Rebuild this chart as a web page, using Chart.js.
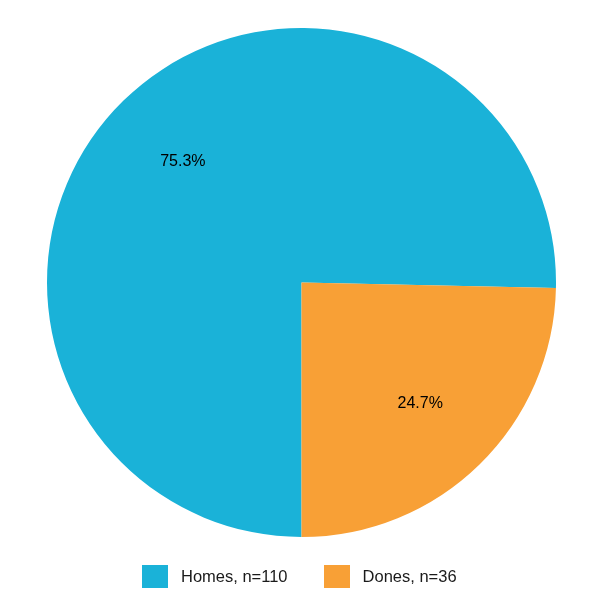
<!DOCTYPE html>
<html>
<head>
<meta charset="utf-8">
<script src="https://cdn.jsdelivr.net/npm/chart.js@4/dist/chart.umd.min.js"></script>
<style>
  html, body { margin: 0; padding: 0; background: #fff; }
  .wrap { position: relative; width: 616px; height: 605px; }
  .legend {
    position: absolute; top: 565px; left: 142px;
    display: flex; align-items: center;
    font-family: "Liberation Sans", Arial, sans-serif; font-size: 16.5px; color: #1a1a1a;
  }
  .legend-item { display: flex; align-items: center; margin-right: 36px; }
  .legend-box { width: 26px; height: 23px; margin-right: 13px; }
</style>
</head>
<body>
<div class="wrap">
  <canvas id="pieChart" width="616" height="605"></canvas>
  <div class="legend" id="legend"></div>
</div>
<script>
const labels = ["Homes", "Dones"];
const counts = [110, 36];
const colors = ["#1ab2d8", "#f8a036"];

// percentage text in the middle of each slice
const sliceLabels = {
  id: "sliceLabels",
  afterDatasetsDraw(chart) {
    const ctx = chart.ctx;
    const meta = chart.getDatasetMeta(0);
    const total = counts.reduce((a, b) => a + b, 0);
    ctx.save();
    ctx.font = "16px 'Liberation Sans', Arial, sans-serif";
    ctx.fillStyle = "#000";
    ctx.textAlign = "center";
    ctx.textBaseline = "middle";
    meta.data.forEach((arc, i) => {
      const mid = (arc.startAngle + arc.endAngle) / 2;
      const r = arc.outerRadius * 2 / 3;
      const x = arc.x + Math.cos(mid) * r;
      const y = arc.y + Math.sin(mid) * r;
      ctx.fillText((counts[i] / total * 100).toFixed(1) + "%", x, y);
    });
    ctx.restore();
  }
};

new Chart(document.getElementById("pieChart").getContext("2d"), {
  type: "pie",
  data: {
    labels: labels,
    datasets: [{
      data: counts,
      backgroundColor: colors,
      borderWidth: 0
    }]
  },
  options: {
    responsive: false,
    animation: false,
    rotation: 180,
    layout: { padding: { top: 28, bottom: 68, left: 47, right: 60 } },
    plugins: {
      legend: { display: false },
      tooltip: { enabled: false }
    }
  },
  plugins: [sliceLabels]
});

// legend below the pie
const legend = document.getElementById("legend");
labels.forEach((name, i) => {
  const item = document.createElement("div");
  item.className = "legend-item";
  item.innerHTML = `<span class="legend-box" style="background:${colors[i]}"></span><span>${name}, n=${counts[i]}</span>`;
  legend.appendChild(item);
});
</script>
</body>
</html>
